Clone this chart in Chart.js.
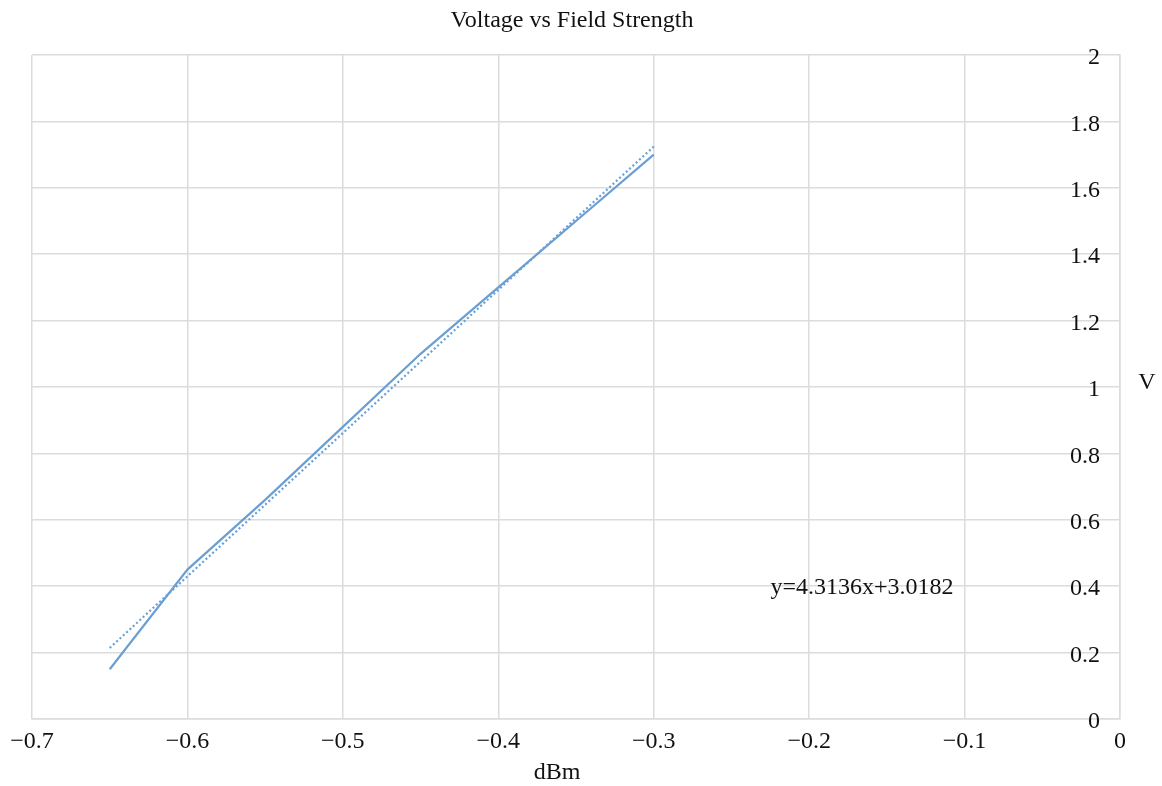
<!DOCTYPE html>
<html>
<head>
<meta charset="utf-8">
<script src="https://cdn.jsdelivr.net/npm/chart.js@4.4.1/dist/chart.umd.min.js"></script>
<style>
  html, body { margin: 0; padding: 0; background: #ffffff; }
  #wrap { width: 1162px; height: 786px; position: relative; }
</style>
</head>
<body>
<div id="wrap"><canvas id="c" width="1162" height="786"></canvas></div>
<script>
// ---- data ----
const fieldStrength = [-0.65, -0.6, -0.55, -0.5, -0.45, -0.4, -0.35, -0.3];
const voltage       = [0.15, 0.45, 0.66, 0.88, 1.1, 1.3, 1.5, 1.7];
const trendX = [-0.65, -0.3];
const trendY = [0.214, 1.724];
const equationText = 'y=4.3136x+3.0182';
const equationPos = [-0.166, 0.395];
const chartTitle = 'Voltage vs Field Strength';
const xTitle = 'dBm';
const yTitle = 'V';

const SERIF = '"Liberation Serif", "Times New Roman", serif';
const lineColor = '#6a9fd3';
const gridColor = '#dcdcdc';

const fmt = v => {
  const r = Math.round(v * 10) / 10;
  if (r === 0) return '0';
  return String(r).replace('-', '\u2212');
};

const textPlugin = {
  id: 'texts',
  afterDraw(chart) {
    const { ctx, scales } = chart;
    ctx.save();
    ctx.fillStyle = '#111';
    ctx.textBaseline = 'middle';
    ctx.textAlign = 'center';
    ctx.font = '24px ' + SERIF;
    ctx.fillText(chartTitle, 572, 21);
    ctx.fillText(xTitle, 557, 773);
    ctx.fillText(yTitle, 1147, 383);
    ctx.fillText(equationText, scales.x.getPixelForValue(equationPos[0]), scales.y.getPixelForValue(equationPos[1]));
    ctx.restore();
  }
};

new Chart(document.getElementById('c'), {
  type: 'scatter',
  data: {
    datasets: [
      {
        label: 'V',
        data: fieldStrength.map((x, i) => ({ x, y: voltage[i] })),
        showLine: true,
        borderColor: lineColor,
        backgroundColor: lineColor,
        borderWidth: 2.2,
        pointRadius: 0,
        tension: 0
      },
      {
        label: 'Trend',
        data: trendX.map((x, i) => ({ x, y: trendY[i] })),
        showLine: true,
        borderColor: lineColor,
        borderWidth: 2.2,
        borderDash: [2, 2.5],
        pointRadius: 0
      }
    ]
  },
  options: {
    responsive: false,
    animation: false,
    layout: { padding: { left: 32, right: 42, top: 55, bottom: 0 } },
    plugins: { legend: { display: false }, title: { display: false }, tooltip: { enabled: false } },
    scales: {
      x: {
        type: 'linear',
        min: -0.7, max: 0,
        ticks: { stepSize: 0.1, callback: v => fmt(v), color: '#111', font: { family: SERIF, size: 24 }, padding: 8, maxRotation: 0 },
        grid: { color: gridColor, lineWidth: 1.5, drawTicks: false },
        border: { color: gridColor, width: 1.5 },
        afterFit(s) { s.height = 67; }
      },
      y: {
        type: 'linear',
        position: 'right',
        min: 0, max: 2,
        ticks: { stepSize: 0.2, mirror: true, padding: -20, labelOffset: 3, callback: v => fmt(v), color: '#111', font: { family: SERIF, size: 24 } },
        grid: { color: gridColor, lineWidth: 1.5, drawTicks: false },
        border: { color: gridColor, width: 1.5 },
        afterFit(s) { s.width = 0; }
      }
    }
  },
  plugins: [textPlugin]
});
</script>
</body>
</html>
